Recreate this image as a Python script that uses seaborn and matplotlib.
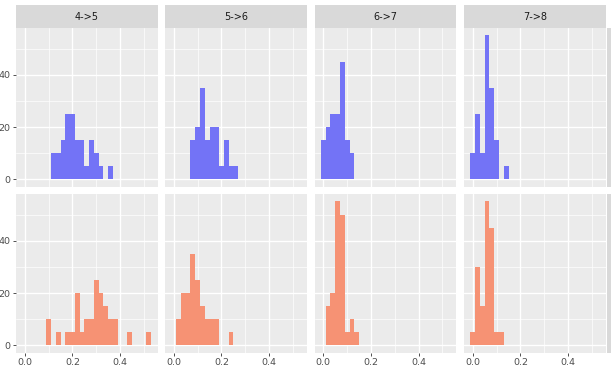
"""
Faceted histograms of step-to-step changes, ggplot-like look.
"""

import matplotlib
matplotlib.use("Agg")
import matplotlib.pyplot as plt
import seaborn as sns

sns.set_theme(style="darkgrid")
plt.rcParams['font.family'] = ['DejaVu Sans']

# facet labels
facets = ['4->5', '5->6', '6->7', '7->8']

# top row (blue): bin centres and bar heights
up_45_x = [0.12, 0.14, 0.16, 0.18, 0.20, 0.22, 0.24, 0.26, 0.28, 0.30, 0.32, 0.36]
up_45_y = [10, 10, 15, 25, 25, 15, 15, 5, 15, 10, 5, 5]
up_56_x = [0.08, 0.10, 0.12, 0.14, 0.16, 0.18, 0.20, 0.22, 0.24, 0.26]
up_56_y = [15, 20, 35, 15, 20, 20, 5, 15, 5, 5]
up_67_x = [0.00, 0.02, 0.04, 0.06, 0.08, 0.10, 0.12]
up_67_y = [15, 20, 25, 25, 45, 15, 10]
up_78_x = [0.00, 0.02, 0.04, 0.06, 0.08, 0.10, 0.14]
up_78_y = [10, 25, 10, 55, 35, 15, 5]

# bottom row (salmon)
lo_45_x = [0.10, 0.14, 0.18, 0.20, 0.22, 0.24, 0.26, 0.28, 0.30, 0.32, 0.34, 0.36, 0.38, 0.44, 0.52]
lo_45_y = [10, 5, 5, 5, 20, 5, 10, 10, 25, 20, 15, 10, 10, 5, 5]
lo_56_x = [0.02, 0.04, 0.06, 0.08, 0.10, 0.12, 0.14, 0.16, 0.18, 0.24]
lo_56_y = [10, 20, 20, 35, 25, 15, 10, 10, 10, 5]
lo_67_x = [0.02, 0.04, 0.06, 0.08, 0.10, 0.12, 0.14]
lo_67_y = [15, 20, 55, 50, 5, 10, 5]
lo_78_x = [0.00, 0.02, 0.04, 0.06, 0.08, 0.10, 0.12]
lo_78_y = [5, 30, 15, 55, 45, 5, 5]

rows = [
    [(up_45_x, up_45_y), (up_56_x, up_56_y), (up_67_x, up_67_y), (up_78_x, up_78_y)],
    [(lo_45_x, lo_45_y), (lo_56_x, lo_56_y), (lo_67_x, lo_67_y), (lo_78_x, lo_78_y)],
]
row_colors = ['#7373F6', '#F69274']

x_ticks = [0.0, 0.2, 0.4]
y_ticks = [0, 20, 40]

W, H = 611, 372
fig = plt.figure(figsize=(W / 100, H / 100), dpi=100)
fig.patch.set_facecolor('white')

col_left = [16, 165, 314.5, 464]
panel_w = 141.5
row_top = [28.3, 194.3]
panel_h = 158.2
strip_top = 5


def px_box(x, y, w, h):
    return [x / W, 1 - (y + h) / H, w / W, h / H]


for r, row in enumerate(rows):
    for c, (xs, ys) in enumerate(row):
        ax = fig.add_axes(px_box(col_left[c], row_top[r], panel_w, panel_h))
        sns.histplot(x=xs, weights=ys, binwidth=0.02, binrange=(-0.01, 0.53),
                     color=row_colors[r], alpha=1, linewidth=0, ax=ax)
        ax.set_facecolor('#EBEBEB')
        ax.set_xlim(-0.037, 0.557)
        ax.set_ylim(-2.75, 57.75)
        ax.set_xticks(x_ticks)
        ax.set_yticks(y_ticks)
        ax.set_xticks([0.1, 0.3, 0.5], minor=True)
        ax.set_yticks([10, 30, 50], minor=True)
        ax.grid(True, which='major', color='white', linewidth=1.0)
        ax.grid(True, which='minor', color='white', linewidth=0.5)
        ax.set_axisbelow(True)
        for s in ax.spines.values():
            s.set_visible(False)
        ax.set_xlabel('')
        ax.set_ylabel('')
        ax.tick_params(which='minor', length=0)
        ax.tick_params(which='major', length=2.5, width=0.6, color='#333333',
                       labelsize=6.8, labelcolor='#4D4D4D', pad=1.5)
        ax.tick_params(axis='x', bottom=(r == 1), labelbottom=(r == 1))
        ax.tick_params(axis='y', left=(c == 0), labelleft=(c == 0))
        ax.set_xticklabels(['0.0', '0.2', '0.4'] if r == 1 else [])

        if r == 0:
            sx = fig.add_axes(px_box(col_left[c], strip_top, panel_w, row_top[0] - strip_top))
            sx.set_facecolor('#D9D9D9')
            sx.set_xticks([])
            sx.set_yticks([])
            for s in sx.spines.values():
                s.set_visible(False)
            sx.text(0.5, 0.5, facets[c], ha='center', va='center',
                    fontsize=7, color='#1A1A1A', transform=sx.transAxes)

    # right-hand row strip, cut off by the image edge
    rx = fig.add_axes(px_box(607, row_top[r], 20, panel_h))
    rx.set_facecolor('#D9D9D9')
    rx.set_xticks([])
    rx.set_yticks([])
    for s in rx.spines.values():
        s.set_visible(False)

fig.savefig('out.png', dpi=100)
